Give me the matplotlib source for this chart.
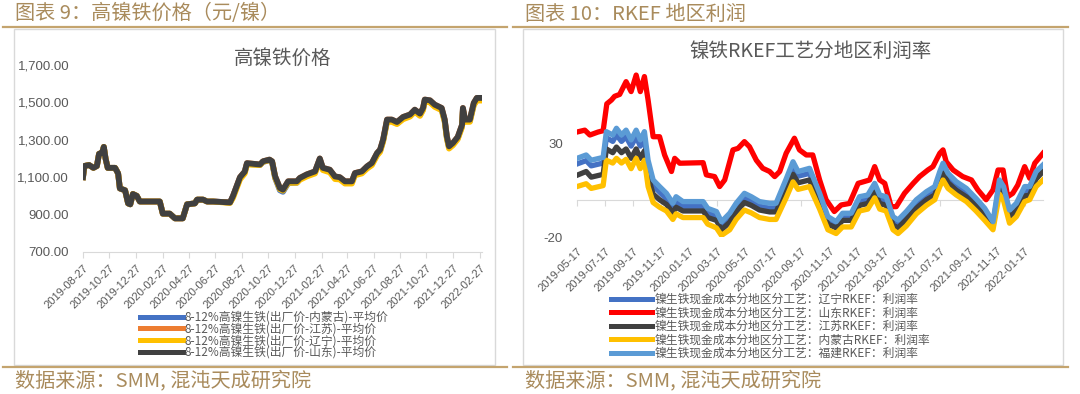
"""Nickel pig iron price and RKEF regional margin charts."""
import pandas as pd
import matplotlib.pyplot as plt
import matplotlib.dates as mdates
from matplotlib.lines import Line2D
from matplotlib.patches import Rectangle

plt.rcParams['font.family'] = ['Noto Sans CJK SC', 'DejaVu Sans']

# ---- left chart data: 8-12% NPI ex-works price ----
lt_dates = [
    "2019-08-27", "2019-08-30", "2019-09-10", "2019-09-20", "2019-09-28", "2019-10-03", "2019-10-10", "2019-10-14", "2019-10-18", "2019-10-23",
    "2019-11-09", "2019-11-16", "2019-11-20", "2019-12-02", "2019-12-09", "2019-12-14", "2019-12-20", "2019-12-29", "2020-01-05", "2020-02-20",
    "2020-02-27", "2020-03-14", "2020-03-26", "2020-04-13", "2020-04-23", "2020-05-11", "2020-05-16", "2020-05-30", "2020-06-08", "2020-06-22",
    "2020-07-31", "2020-08-07", "2020-08-23", "2020-09-03", "2020-09-08", "2020-10-08", "2020-10-15", "2020-10-30", "2020-11-05", "2020-11-12",
    "2020-11-23", "2020-11-30", "2020-12-12", "2021-01-01", "2021-01-08", "2021-01-24", "2021-02-12", "2021-02-23", "2021-03-02", "2021-03-18",
    "2021-03-30", "2021-04-10", "2021-04-22", "2021-05-08", "2021-05-15", "2021-05-31", "2021-06-12", "2021-06-23", "2021-07-05", "2021-07-12",
    "2021-07-19", "2021-07-28", "2021-08-08", "2021-08-20", "2021-09-03", "2021-09-19", "2021-09-30", "2021-10-12", "2021-10-19", "2021-10-23",
    "2021-11-04", "2021-11-15", "2021-12-01", "2021-12-08", "2021-12-13", "2021-12-18", "2021-12-27", "2022-01-07", "2022-01-17", "2022-01-19",
    "2022-01-24", "2022-02-04", "2022-02-13", "2022-02-20", "2022-03-04"]

price_neimenggu = [
    1100, 1160, 1165, 1150, 1160, 1225, 1230, 1262, 1200, 1150,
    1150, 1120, 1040, 1030, 960, 955, 1010, 1000, 970, 970,
    905, 905, 880, 880, 955, 960, 980, 980, 970, 970,
    965, 1000, 1095, 1128, 1172, 1165, 1182, 1190, 1180, 1095,
    1030, 1022, 1068, 1070, 1090, 1110, 1128, 1195, 1145, 1135,
    1098, 1095, 1072, 1072, 1116, 1126, 1152, 1170, 1222, 1240,
    1295, 1400, 1400, 1388, 1415, 1428, 1455, 1432, 1463, 1508,
    1505, 1482, 1463, 1400, 1310, 1258, 1276, 1308, 1373, 1462,
    1400, 1400, 1488, 1515, 1515]
price_jiangsu = [
    1100, 1160, 1165, 1150, 1160, 1225, 1230, 1262, 1200, 1150,
    1150, 1120, 1040, 1030, 960, 955, 1010, 1000, 970, 970,
    905, 905, 880, 880, 955, 960, 980, 980, 970, 970,
    965, 1000, 1100, 1130, 1175, 1168, 1185, 1194, 1185, 1105,
    1042, 1033, 1078, 1078, 1096, 1115, 1131, 1200, 1150, 1140,
    1104, 1100, 1078, 1078, 1122, 1131, 1158, 1176, 1229, 1247,
    1301, 1408, 1408, 1395, 1422, 1435, 1461, 1440, 1470, 1515,
    1511, 1488, 1470, 1408, 1318, 1265, 1283, 1315, 1380, 1470,
    1408, 1408, 1497, 1524, 1524]
price_liaoning = [
    1100, 1160, 1165, 1150, 1160, 1225, 1230, 1262, 1200, 1150,
    1150, 1120, 1040, 1030, 960, 955, 1010, 1000, 970, 970,
    905, 905, 880, 880, 955, 960, 980, 980, 970, 970,
    962, 990, 1088, 1120, 1168, 1165, 1182, 1192, 1182, 1098,
    1036, 1028, 1070, 1070, 1086, 1104, 1120, 1190, 1138, 1126,
    1090, 1088, 1066, 1066, 1110, 1120, 1146, 1164, 1216, 1235,
    1290, 1396, 1396, 1384, 1410, 1424, 1450, 1428, 1458, 1504,
    1500, 1476, 1458, 1396, 1306, 1253, 1271, 1303, 1368, 1458,
    1396, 1396, 1484, 1510, 1510]
price_shandong = [
    1100, 1160, 1165, 1150, 1160, 1225, 1230, 1262, 1200, 1150,
    1150, 1120, 1040, 1030, 960, 955, 1010, 1000, 970, 970,
    905, 905, 880, 880, 955, 960, 980, 980, 970, 970,
    965, 1000, 1100, 1130, 1175, 1168, 1185, 1194, 1185, 1105,
    1042, 1033, 1078, 1078, 1096, 1115, 1131, 1200, 1150, 1140,
    1104, 1100, 1078, 1078, 1122, 1131, 1158, 1176, 1229, 1247,
    1301, 1408, 1408, 1395, 1422, 1435, 1461, 1440, 1470, 1515,
    1511, 1488, 1470, 1408, 1318, 1265, 1283, 1315, 1380, 1470,
    1408, 1408, 1497, 1524, 1524]

lt_labels = ["8-12%高镍生铁(出厂价-内蒙古)-平均价", "8-12%高镍生铁(出厂价-江苏)-平均价",
             "8-12%高镍生铁(出厂价-辽宁)-平均价", "8-12%高镍生铁(出厂价-山东)-平均价"]
lt_colors = ["#4472C4", "#ED7D31", "#FFC000", "#404040"]
lt_ticks = ["2019-08-27", "2019-10-27", "2019-12-27", "2020-02-27", "2020-04-27", "2020-06-27",
            "2020-08-27", "2020-10-27", "2020-12-27", "2021-02-27", "2021-04-27", "2021-06-27",
            "2021-08-27", "2021-10-27", "2021-12-27", "2022-02-27"]
lt_yticks = [700, 900, 1100, 1300, 1500, 1700]

# ---- right chart data: RKEF margin by region ----
rt_dates = [
    "2019-05-17", "2019-06-06", "2019-06-17", "2019-07-13", "2019-07-20", "2019-08-03", "2019-08-11", "2019-08-22", "2019-09-01", "2019-09-12",
    "2019-09-23", "2019-10-02", "2019-10-11", "2019-10-19", "2019-10-30", "2019-11-13", "2019-11-28", "2019-12-12", "2019-12-19", "2020-01-03",
    "2020-02-16", "2020-02-26", "2020-03-16", "2020-03-27", "2020-04-14", "2020-04-28", "2020-05-16", "2020-05-31", "2020-06-18", "2020-07-10",
    "2020-07-24", "2020-08-15", "2020-08-30", "2020-09-10", "2020-10-05", "2020-10-27", "2020-11-14", "2020-12-02", "2020-12-16", "2021-01-04",
    "2021-01-22", "2021-02-09", "2021-02-24", "2021-03-07", "2021-03-21", "2021-04-05", "2021-04-16", "2021-05-04", "2021-05-26", "2021-06-17",
    "2021-07-05", "2021-07-16", "2021-07-23", "2021-08-03", "2021-08-21", "2021-09-12", "2021-10-03", "2021-10-22", "2021-11-09", "2021-11-23",
    "2021-12-02", "2021-12-15", "2021-12-30", "2022-01-17", "2022-01-28", "2022-02-11", "2022-02-26"]

margin_liaoning = [
    19, 20.8, 18, 19.5, 33, 31, 34.5, 31, 33.5, 28.5,
    33.5, 28.5, 32.5, 18, 7.5, 4, 0.5, -4.5, -1, -3.5,
    -3.5, -7, -8.5, -14, -9.5, -4, 1, -1, -3.5, -4.5,
    -4.5, 8, 17, 12.5, 14, 1, -11, -13.5, -9, -9,
    -0.5, 0.5, 6.5, 0.5, -0.5, -11, -12.5, -8, -2, 2.5,
    5, 13, 17.5, 12, 7.5, 4, -1.5, -6.5, -13, 8.5,
    5, -7.5, -4, 5, 5, 13, 16.5]
margin_jiangsu = [
    13, 15, 12, 13.5, 27, 25, 28, 25, 27, 22,
    27, 22, 26, 12, 3, 0, -2.5, -7, -4, -6,
    -6, -9.5, -11, -16, -12, -6.5, -1.5, -3, -5.5, -6.5,
    -6.5, 5, 13.5, 9, 10.5, -2, -13, -15, -11, -11,
    -3, -2, 4, -2, -3, -13.5, -15, -10.5, -4.5, 0,
    2.5, 10, 14, 9, 5, 1.5, -3.5, -8.5, -14, 6,
    2.5, -9.5, -6, 2, 2.5, 11, 15]
margin_neimenggu = [
    7, 8.5, 6, 7.5, 21, 19.5, 22, 19.5, 21.5, 16.5,
    22, 16.5, 21, 7, -1.5, -4, -6, -10.5, -7.5, -9.5,
    -9.5, -13, -15, -19, -16, -10.5, -5.5, -7, -9.5, -10.5,
    -10.5, 1, 9.5, 5.5, 7, -5, -16, -18, -14.5, -14.5,
    -6, -5, 1, -5, -6, -16, -18, -14, -7.5, -3,
    0, 7, 10.5, 6, 2.5, -1, -6, -11, -16, 3,
    -0.5, -12.5, -9, -1, 0, 7, 10.5]
margin_fujian = [
    22, 23.8, 21, 22.5, 36.2, 34.4, 38, 34.4, 37, 31.8,
    37, 31.8, 36.2, 21, 10.5, 7, 3.4, -1.9, 1.6, -1,
    -1, -4.6, -6.3, -11.7, -7.2, -1.9, 3.4, 1.6, -1, -1.9,
    -1.9, 11, 20.2, 15, 16.7, 3.4, -9, -11.7, -7.2, -7.2,
    1.6, 2.5, 8.7, 2.5, 1.6, -9, -10.8, -6.3, 0, 4.3,
    7, 15, 19.4, 14, 9.6, 6, 0.7, -4.6, -11.7, 10.5,
    7, -5.5, -1.9, 7, 7, 15, 18.5]

sd_dates = [
    "2019-05-17", "2019-06-03", "2019-06-14", "2019-07-02", "2019-07-13", "2019-07-21", "2019-07-31", "2019-08-07", "2019-08-18", "2019-09-01",
    "2019-09-12", "2019-09-23", "2019-10-02", "2019-10-11", "2019-10-19", "2019-10-30", "2019-11-13", "2019-11-24", "2019-12-09", "2019-12-16",
    "2019-12-27", "2020-02-16", "2020-02-23", "2020-03-12", "2020-03-23", "2020-04-03", "2020-04-10", "2020-04-21", "2020-05-02", "2020-05-16",
    "2020-05-27", "2020-06-11", "2020-06-25", "2020-07-10", "2020-07-21", "2020-08-01", "2020-08-15", "2020-09-02", "2020-09-13", "2020-09-28",
    "2020-10-12", "2020-10-27", "2020-11-10", "2020-11-28", "2020-12-13", "2020-12-31", "2021-01-19", "2021-02-13", "2021-02-24", "2021-03-07",
    "2021-03-18", "2021-04-01", "2021-04-12", "2021-04-30", "2021-05-19", "2021-06-02", "2021-06-20", "2021-07-01", "2021-07-16", "2021-07-23",
    "2021-07-30", "2021-08-14", "2021-09-04", "2021-09-23", "2021-10-07", "2021-10-25", "2021-11-09", "2021-11-20", "2021-12-01", "2021-12-11",
    "2021-12-22", "2022-01-02", "2022-01-17", "2022-01-28", "2022-02-08", "2022-02-26"]
margin_shandong = [
    36, 37, 34.4, 36, 36.7, 51, 53, 55, 56, 62.8,
    57.5, 66.3, 57.5, 65.5, 53, 33.5, 33.5, 23.8, 15, 22,
    19.4, 19.7, 13.2, 12.3, 7, 10.5, 16.7, 26.5, 27.3, 30.9,
    28.2, 21, 16.7, 15, 12.3, 15, 24.7, 32.7, 26.5, 23.8,
    23.8, 10.5, 0, -6.3, -2.8, -2, 8.7, 10.5, 17.6, 10.5,
    8.7, -3.7, -3.7, 3.4, 8.7, 12.3, 15.8, 17.6, 24.7, 26.5,
    20.2, 15.8, 12.3, 10.5, 5.2, 0, 5.2, 15.8, 15.8, 1.6,
    3.4, 7.8, 17.6, 11.4, 19.4, 24.7]

rt_labels = ["镍生铁现金成本分地区分工艺：辽宁RKEF：利润率", "镍生铁现金成本分地区分工艺：山东RKEF：利润率",
             "镍生铁现金成本分地区分工艺：江苏RKEF：利润率", "镍生铁现金成本分地区分工艺：内蒙古RKEF：利润率",
             "镍生铁现金成本分地区分工艺：福建RKEF：利润率"]
rt_colors = ["#4472C4", "#FF0000", "#404040", "#FFC000", "#5B9BD5"]
rt_ticks = ["2019-05-17", "2019-07-17", "2019-09-17", "2019-11-17", "2020-01-17", "2020-03-17",
            "2020-05-17", "2020-07-17", "2020-09-17", "2020-11-17", "2021-01-17", "2021-03-17",
            "2021-05-17", "2021-07-17", "2021-09-17", "2021-11-17", "2022-01-17"]
rt_yticks = [-20, 30]

W, H = 1080, 394
GOLD = "#A98B5C"
GOLD_LINE = "#C4A46E"
GRID = "#D9D9D9"
TXT = "#595959"


def fx(px):
    return px / W


def fy(py):
    return 1 - py / H


def add_frame(fig, x0, x1, bx0, bx1, header, footer):
    """Gold header/footer rules, grey box and caption texts."""
    fig.patches.append(Rectangle((fx(bx0), fy(365)), fx(bx1) - fx(bx0), (365 - 29) / H,
                                 transform=fig.transFigure, fill=False, edgecolor=GRID, lw=1))
    for yy in (27, 367):
        fig.lines.append(Line2D([fx(x0), fx(x1)], [fy(yy), fy(yy)], transform=fig.transFigure,
                                color=GOLD_LINE, lw=1.6))
    fig.text(fx(x0 + 12), fy(14), header, color=GOLD, fontsize=14.5, va="center", ha="left")
    fig.text(fx(x0 + 12), fy(382), footer, color=GOLD, fontsize=14.5, va="center", ha="left")


def main():
    fig = plt.figure(figsize=(W / 100, H / 100), dpi=100)

    add_frame(fig, 3, 507, 14, 495, "图表 9：高镍铁价格（元/镍）", "数据来源：SMM, 混沌天成研究院")
    add_frame(fig, 513, 1068, 523, 1063, "图表 10：RKEF 地区利润", "数据来源：SMM, 混沌天成研究院")

    # left chart
    ax1 = fig.add_axes([fx(83), fy(252), fx(482) - fx(83), (252 - 65) / H])
    x1 = pd.to_datetime(lt_dates)
    for vals, col in zip([price_neimenggu, price_jiangsu, price_liaoning, price_shandong], lt_colors):
        ax1.plot(x1, vals, color=col, lw=4.2, solid_joinstyle="round")
    ax1.set_xlim(pd.Timestamp("2019-08-27"), pd.Timestamp("2022-03-04"))
    ax1.set_ylim(700, 1700)
    ax1.set_yticks(lt_yticks, labels=[f"{v:,.2f}" for v in lt_yticks],
                   fontsize=9.5, color=TXT, family="Liberation Sans")
    ax1.tick_params(axis="y", length=0, pad=10)
    ax1.set_xticks(pd.to_datetime(lt_ticks), labels=lt_ticks, rotation=45, ha="right",
                   rotation_mode="anchor", fontsize=8, color=TXT, family="Liberation Sans")
    ax1.tick_params(axis="x", length=4, color=GRID, pad=4)
    for s in ("top", "right", "left"):
        ax1.spines[s].set_visible(False)
    ax1.spines["bottom"].set_color(GRID)
    ax1.set_title("高镍铁价格", fontsize=14, color=TXT, y=0.96)
    handles = [Line2D([], [], color=c, lw=3.6) for c in lt_colors]
    fig.legend(handles, lt_labels, loc="upper left", bbox_to_anchor=(fx(140), fy(311)),
               frameon=False, fontsize=8.5, handlelength=3.6, handletextpad=0.2,
               labelspacing=-0.12, borderpad=0, borderaxespad=0, labelcolor=TXT)

    # right chart
    ax2 = fig.add_axes([fx(577), fy(237.3), fx(1043) - fx(577), (237.3 - 58.7) / H])
    x2 = pd.to_datetime(rt_dates)
    xs = pd.to_datetime(sd_dates)
    series = [(x2, margin_liaoning), (xs, margin_shandong), (x2, margin_jiangsu),
              (x2, margin_neimenggu), (x2, margin_fujian)]
    for (xx, vals), col in zip(series, rt_colors):
        ax2.plot(xx, vals, color=col, lw=3.8, solid_joinstyle="round")
    ax2.set_xlim(pd.Timestamp("2019-05-17"), pd.Timestamp("2022-02-26"))
    ax2.set_ylim(-20, 75)
    ax2.set_yticks(rt_yticks, labels=[str(v) for v in rt_yticks],
                   fontsize=9.5, color=TXT, family="Liberation Sans")
    ax2.tick_params(axis="y", length=0, pad=10)
    for s in ("top", "right", "left"):
        ax2.spines[s].set_visible(False)
    ax2.spines["bottom"].set_position(("data", 0))
    ax2.spines["bottom"].set_color(GRID)
    ax2.spines["bottom"].set_zorder(0)
    tick_pos = mdates.date2num(pd.to_datetime(rt_ticks))
    ax2.set_xticks(tick_pos)
    ax2.tick_params(axis="x", length=4, color=GRID, labelbottom=False)
    sec = ax2.secondary_xaxis("bottom")
    sec.set_xticks(tick_pos, labels=rt_ticks, rotation=45, ha="right", rotation_mode="anchor",
                   fontsize=8, color=TXT, family="Liberation Sans")
    sec.tick_params(length=0, pad=6)
    sec.spines["bottom"].set_visible(False)
    ax2.set_title("镍铁RKEF工艺分地区利润率", fontsize=14, color=TXT, y=0.965)
    handles = [Line2D([], [], color=c, lw=3.6) for c in rt_colors]
    fig.legend(handles, rt_labels, loc="upper left", bbox_to_anchor=(fx(611), fy(293)),
               frameon=False, fontsize=8.5, handlelength=3.5, handletextpad=0.2,
               labelspacing=0.04, borderpad=0, borderaxespad=0, labelcolor=TXT)

    fig.savefig("out.png", dpi=100, facecolor="white")
    plt.close(fig)


if __name__ == "__main__":
    main()
